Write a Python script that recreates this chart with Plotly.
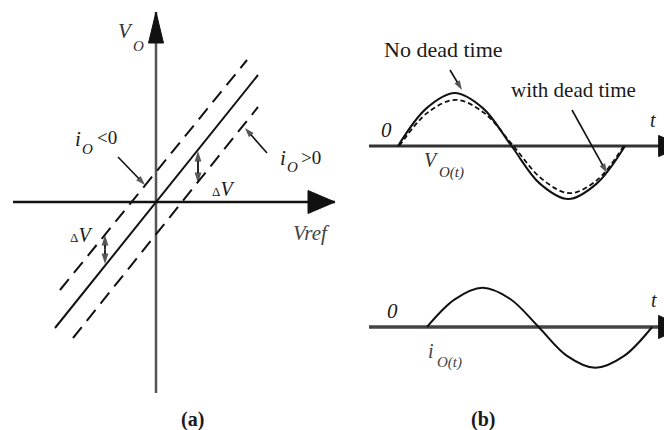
import plotly.graph_objects as go

W, H = 664, 430

# ---------------- data ----------------
# (a) static characteristic V_O versus Vref
vref_ideal = [-1.01, 1.02]
vo_ideal = [-1.26, 1.27]
vref_ineg = [-0.96, 0.91]      # i_O < 0 : curve shifted up by dV
vo_ineg = [-0.88, 1.42]
vref_ipos = [-0.83, 1.02]      # i_O > 0 : curve shifted down by dV
vo_ipos = [-1.36, 0.95]
vref_axis = [-1.43, 1.79]
vo_axis = [-1.91, 1.90]

# (b) waveforms versus electrical angle (deg)
theta = [0, 45, 90, 135, 180, 225, 270, 315, 360]
vo_nodead = [0, 0.71, 1.0, 0.71, 0, -0.71, -1.0, -0.71, 0]
theta_dead = [2, 47, 92, 137, 183, 228, 272, 316, 358]
vo_dead = [0, 0.63, 0.87, 0.62, 0, -0.62, -0.89, -0.64, 0]
theta_i = [46, 90, 134, 178, 223, 268, 313, 358, 403]
io = [0, 0.69, 0.98, 0.70, 0, -0.72, -1.02, -0.73, 0]
t_axis = [-46, 453]

# ---------------- scales (pixels per unit) ----------------
PX_A = 100.0
PX_T = 227.0 / 360.0
PX_V = 53.0
PX_I = 40.0
SPLIT = 340.0
ORIGIN_A = (156.0, 202.0)
ORIGIN_B = (398.0, 146.0)

xa_range = [(0 - ORIGIN_A[0]) / PX_A, (SPLIT - ORIGIN_A[0]) / PX_A]
ya_range = [(ORIGIN_A[1] - H) / PX_A, ORIGIN_A[1] / PX_A]
xb_range = [(SPLIT - ORIGIN_B[0]) / PX_T, (W - ORIGIN_B[0]) / PX_T]
yv_range = [-(H - ORIGIN_B[1]) / PX_V, ORIGIN_B[1] / PX_V]
yi_range = [-(H - 327) / PX_I, 327 / PX_I]

BLACK = "#111111"
SERIF = "Liberation Serif, Times New Roman, serif"

fig = go.Figure()


def line(x, y, xa, ya, color=BLACK, width=2.0, dash="solid", shape="linear"):
    fig.add_trace(go.Scatter(x=x, y=y, xaxis=xa, yaxis=ya, mode="lines",
                             line=dict(color=color, width=width, dash=dash,
                                       shape=shape, smoothing=1.0),
                             hoverinfo="skip", showlegend=False))


def head(xtip, ytip, direction, length, half, sx, sy, xa, ya, color=BLACK):
    if direction == "up":
        xs = [xtip - half / sx, xtip, xtip + half / sx, xtip - half / sx]
        ys = [ytip - length / sy, ytip, ytip - length / sy, ytip - length / sy]
    else:
        xs = [xtip - length / sx, xtip, xtip - length / sx, xtip - length / sx]
        ys = [ytip + half / sy, ytip, ytip - half / sy, ytip + half / sy]
    fig.add_trace(go.Scatter(x=xs, y=ys, xaxis=xa, yaxis=ya, mode="lines",
                             fill="toself", fillcolor=color,
                             line=dict(color=color, width=1),
                             hoverinfo="skip", showlegend=False))


def pointer(x0, y0, x1, y1, panel="a", width=1.6, size=10, symbol="arrow"):
    """Leader arrow from (x0, y0) to (x1, y1), given in figure pixels."""
    if panel == "a":
        xs = [(p - ORIGIN_A[0]) / PX_A for p in (x0, x1)]
        ys = [(ORIGIN_A[1] - p) / PX_A for p in (y0, y1)]
        xa, ya = "x", "y"
    else:
        xs = [(p - ORIGIN_B[0]) / PX_T for p in (x0, x1)]
        ys = [(ORIGIN_B[1] - p) / PX_V for p in (y0, y1)]
        xa, ya = "x2", "y2"
    fig.add_trace(go.Scatter(x=xs, y=ys, xaxis=xa, yaxis=ya, mode="lines+markers",
                             line=dict(color=BLACK, width=width),
                             marker=dict(symbol=symbol, angleref="previous",
                                         size=[0, size], color=BLACK,
                                         line=dict(width=0)),
                             hoverinfo="skip", showlegend=False))


def double_pointer(x, y0, y1, **kw):
    mid = (y0 + y1) / 2.0
    pointer(x, mid, x, y0, **kw)
    pointer(x, mid, x, y1, **kw)


# ---------- panel (a) ----------
line([0, 0], vo_axis, "x", "y", color="#555555", width=2.5)
head(0, vo_axis[1], "up", 31, 7.5, PX_A, PX_A, "x", "y")
line(vref_axis, [0, 0], "x", "y", width=2.5)
head(vref_axis[1], 0, "right", 27, 11.5, PX_A, PX_A, "x", "y")
line(vref_ideal, vo_ideal, "x", "y", width=2)
line(vref_ineg, vo_ineg, "x", "y", width=2, dash="14px,8px")
line(vref_ipos, vo_ipos, "x", "y", width=2, dash="14px,8px")
pointer(118, 157, 145, 185)
pointer(267, 153, 245, 128)
double_pointer(198, 151, 183, width=1.8, size=11)
double_pointer(105, 235, 264, width=1.8, size=11)

# ---------- panel (b) ----------
line(t_axis, [0, 0], "x2", "y2", color="#333333", width=3)
head(t_axis[1], 0, "right", 25, 10.5, PX_T, PX_V, "x2", "y2")
line(theta, vo_nodead, "x2", "y2", width=2, shape="spline")
line(theta_dead, vo_dead, "x2", "y2", width=1.8, dash="5px,3px", shape="spline")
pointer(450, 70, 462, 90, panel="b")
pointer(572, 110, 607, 173, panel="b")

line(t_axis, [0, 0], "x2", "y3", color="#444444", width=3.5)
head(t_axis[1], 0, "right", 25, 11.5, PX_T, PX_I, "x2", "y3")
line(theta_i, io, "x2", "y3", width=2, shape="spline")

# ---------- text ----------
ann = []


def P(x, y):
    return x / W, 1 - y / H


def text(s, x, y, size, italic=False, bold=False, color="#1a1a1a", anchor="center"):
    if italic:
        s = "<i>" + s + "</i>"
    if bold:
        s = "<b>" + s + "</b>"
    px, py = P(x, y)
    ann.append(dict(text=s, x=px, y=py, xref="paper", yref="paper",
                    showarrow=False, xanchor=anchor, yanchor="middle",
                    borderpad=0,
                    font=dict(family=SERIF, size=size, color=color)))


DV = "<span style='font-size:13px'>Δ</span><i>V</i>"

# panel (a) labels
text("V", 125, 31, 21, italic=True, color="#333333")
text("O", 138, 46, 15, italic=True, color="#333333")
text("Vref", 311, 233, 21, italic=True, color="#444444")
text("i", 78, 139, 21, italic=True)
text("O", 87, 149, 15, italic=True)
text("&lt;0", 96, 137, 19, anchor="left")
text("i", 283, 158, 21, italic=True)
text("O", 292, 167, 15, italic=True)
text("&gt;0", 300, 157, 19, anchor="left")
text(DV, 223, 189, 20)
text(DV, 81, 235, 20)

# panel (b) labels
text("No dead time", 443, 50, 22)
text("with dead time", 573, 90, 21)
text("0", 386, 130, 21, italic=True)
text("t", 653, 120, 20, italic=True)
text("V", 431, 160, 20, italic=True, color="#333333")
text("O(t)", 438, 172, 15, italic=True, color="#333333", anchor="left")

text("0", 392, 311, 21, italic=True)
text("t", 654, 300, 20, italic=True)
text("i", 431, 351, 20, italic=True, color="#444444")
text("O(t)", 436, 362, 15, italic=True, color="#444444", anchor="left")

text("(a)", 192, 419, 20, bold=True)
text("(b)", 483, 419, 20, bold=True)

hidden = dict(visible=False, showgrid=False, zeroline=False, fixedrange=True)
fig.update_layout(
    width=W, height=H,
    margin=dict(l=0, r=0, t=0, b=0),
    paper_bgcolor="white", plot_bgcolor="rgba(0,0,0,0)",
    showlegend=False,
    annotations=ann,
    xaxis=dict(domain=[0, SPLIT / W], range=xa_range, anchor="y", **hidden),
    yaxis=dict(domain=[0, 1], range=ya_range, anchor="x", **hidden),
    xaxis2=dict(domain=[SPLIT / W, 1], range=xb_range, anchor="y2", **hidden),
    yaxis2=dict(domain=[0, 1], range=yv_range, anchor="x2", **hidden),
    yaxis3=dict(domain=[0, 1], range=yi_range, anchor="x2", overlaying="y2", **hidden),
)

fig.write_html("out.html", config=dict(displayModeBar=False))
